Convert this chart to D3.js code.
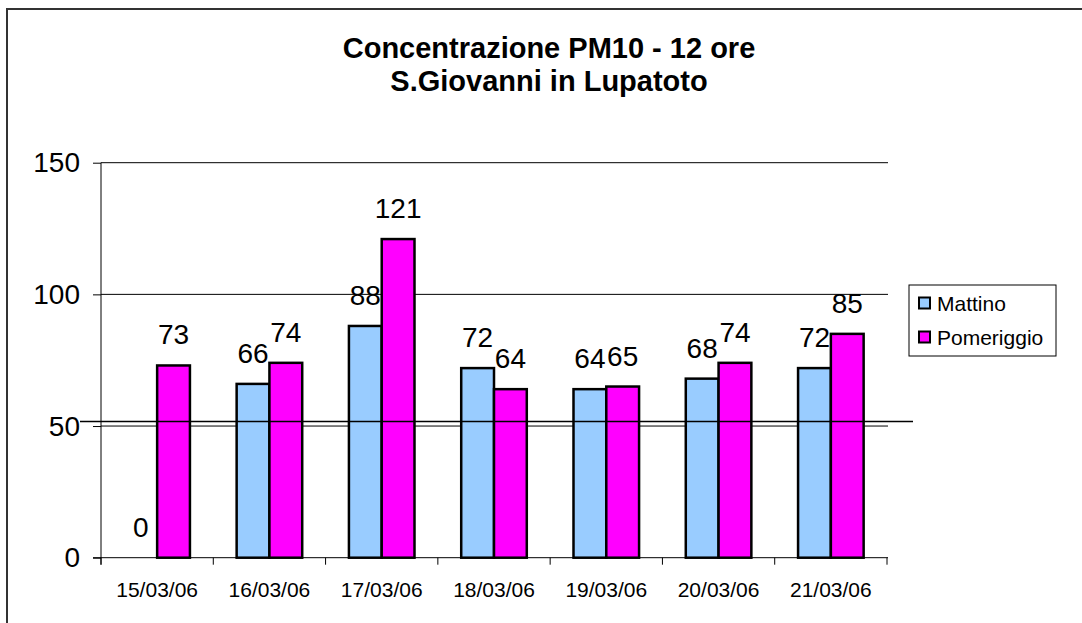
<!DOCTYPE html>
<html>
<head>
  <meta charset="utf-8">
  <title>Concentrazione PM10 - 12 ore</title>
  <script src="https://cdn.jsdelivr.net/npm/d3@7"></script>
  <style>
    body { margin: 0; background: #fff; }
    svg { display: block; font-family: Arial, "Liberation Sans", sans-serif; }
  </style>
</head>
<body>
<script>
  // dati
  const giorni = ["15/03/06", "16/03/06", "17/03/06", "18/03/06", "19/03/06", "20/03/06", "21/03/06"];
  const serie = ["Mattino", "Pomeriggio"];
  const mattino = [0, 66, 88, 72, 64, 68, 72];
  const pomeriggio = [73, 74, 121, 64, 65, 74, 85];
  const yTicks = [0, 50, 100, 150];
  const limite = 51.7; // linea orizzontale di riferimento
  const colori = ["#99ccff", "#ff00ff"];

  const w = 1082, h = 623;
  const pLeft = 101, pRight = 887, pTop = 162.7, pBottom = 557.7;

  const svg = d3.select("body").append("svg")
    .attr("width", w)
    .attr("height", h);

  // cornice esterna
  svg.append("rect")
    .attr("x", 7).attr("y", 9)
    .attr("width", 1100).attr("height", 700)
    .attr("fill", "none")
    .attr("stroke", "#333")
    .attr("stroke-width", 2);

  // titolo
  svg.append("text")
    .attr("x", 549).attr("y", 58)
    .attr("text-anchor", "middle")
    .attr("font-weight", "bold")
    .attr("font-size", 29)
    .text("Concentrazione PM10 - 12 ore");
  svg.append("text")
    .attr("x", 549).attr("y", 91)
    .attr("text-anchor", "middle")
    .attr("font-weight", "bold")
    .attr("font-size", 29)
    .text("S.Giovanni in Lupatoto");

  const x0 = d3.scaleBand()
    .domain(giorni)
    .range([pLeft, pRight])
    .paddingInner(0.416)
    .paddingOuter(0.208);

  const x1 = d3.scaleBand()
    .domain(serie)
    .range([0, x0.bandwidth()]);

  const yScale = d3.scaleLinear()
    .domain([0, 150])
    .range([pBottom, pTop]);

  // griglia
  svg.append("g")
    .selectAll("line")
    .data(yTicks.filter(d => d > 0))
    .enter()
    .append("line")
    .attr("x1", pLeft).attr("x2", pRight + 1)
    .attr("y1", d => yScale(d)).attr("y2", d => yScale(d))
    .attr("stroke", "#000")
    .attr("stroke-width", 1);

  // asse y
  const yAxis = svg.append("g")
    .attr("transform", "translate(" + pLeft + ",0)")
    .call(d3.axisLeft(yScale).tickValues(yTicks).tickSize(8).tickPadding(13));
  yAxis.select(".domain").attr("d", "M0," + (pBottom + 7) + "V" + pTop);
  yAxis.selectAll("text").attr("font-size", 28).attr("font-family", null).attr("dy", "0.33em");

  // barre
  const gruppi = svg.append("g")
    .selectAll("g")
    .data(giorni)
    .enter()
    .append("g")
    .attr("transform", d => "translate(" + x0(d) + ",0)");

  const righe = giorni.map((g, i) => [mattino[i], pomeriggio[i]]);

  gruppi.selectAll("rect")
    .data((d, i) => righe[i].map((v, j) => ({ s: serie[j], v: v, c: colori[j] })))
    .enter()
    .append("rect")
    .filter(d => d.v > 0)
    .attr("x", d => x1(d.s))
    .attr("y", d => yScale(d.v))
    .attr("width", x1.bandwidth())
    .attr("height", d => pBottom - yScale(d.v))
    .attr("fill", d => d.c)
    .attr("stroke", "#000")
    .attr("stroke-width", 2.5);

  // etichette dati
  gruppi.selectAll("text")
    .data((d, i) => righe[i].map((v, j) => ({ s: serie[j], v: v })))
    .enter()
    .append("text")
    .attr("x", d => x1(d.s) + x1.bandwidth() / 2)
    .attr("y", d => yScale(d.v) - 21)
    .attr("text-anchor", "middle")
    .attr("font-size", 28)
    .text(d => d.v);

  // asse x
  const xAxis = svg.append("g")
    .attr("transform", "translate(0," + pBottom + ")");
  xAxis.append("line")
    .attr("x1", pLeft - 8).attr("x2", pRight + 1)
    .attr("stroke", "#000");
  xAxis.selectAll("line.tick")
    .data(d3.range(giorni.length + 1))
    .enter()
    .append("line")
    .attr("class", "tick")
    .attr("x1", i => pLeft + i * x0.step()).attr("x2", i => pLeft + i * x0.step())
    .attr("y1", 0).attr("y2", 7)
    .attr("stroke", "#000");
  xAxis.selectAll("text")
    .data(giorni)
    .enter()
    .append("text")
    .attr("x", d => x0(d) + x0.bandwidth() / 2)
    .attr("y", 39)
    .attr("text-anchor", "middle")
    .attr("font-size", 21)
    .text(d => d);

  // linea di riferimento
  svg.append("line")
    .attr("x1", 80).attr("x2", 913)
    .attr("y1", yScale(limite)).attr("y2", yScale(limite))
    .attr("stroke", "#000")
    .attr("stroke-width", 1.5);

  // legenda
  const leg = svg.append("g").attr("transform", "translate(909,285)");
  leg.append("rect")
    .attr("width", 147).attr("height", 71)
    .attr("fill", "#fff").attr("stroke", "#000");
  const voci = leg.selectAll("g")
    .data(serie)
    .enter()
    .append("g")
    .attr("transform", (d, i) => "translate(10," + (18 + i * 34) + ")");
  voci.append("rect")
    .attr("y", -5.5)
    .attr("width", 11).attr("height", 11)
    .attr("fill", (d, i) => colori[i])
    .attr("stroke", "#000").attr("stroke-width", 2);
  voci.append("text")
    .attr("x", 18).attr("y", 7.5)
    .attr("font-size", 21)
    .text(d => d);
</script>
</body>
</html>
